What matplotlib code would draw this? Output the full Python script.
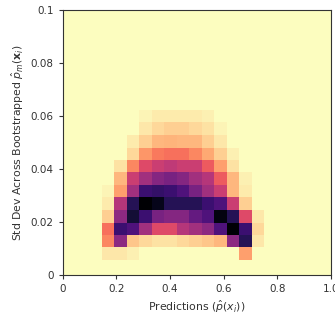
import numpy as np
import matplotlib
matplotlib.use("Agg")
import matplotlib.pyplot as plt

# bin edges of the 2d histogram (prediction, std dev)
x_edges = [0.146, 0.193, 0.239, 0.286, 0.332, 0.379, 0.425,
           0.472, 0.519, 0.565, 0.612, 0.658, 0.705, 0.751]
y_edges = [0.0057, 0.0104, 0.0151, 0.0198, 0.0246, 0.0293, 0.0340,
           0.0387, 0.0434, 0.0481, 0.0529, 0.0576, 0.0623]

# relative density per cell, rows go bottom -> top
density = [
    [0.05, 0.05, 0.03, 0, 0, 0, 0, 0, 0, 0, 0, 0.2, 0],
    [0.25, 0.6, 0.12, 0.08, 0.06, 0.06, 0.08, 0.1, 0.12, 0.15, 0.6, 0.85, 0.05],
    [0.3, 0.8, 0.75, 0.55, 0.4, 0.4, 0.5, 0.55, 0.6, 0.75, 1.0, 0.8, 0.08],
    [0.1, 0.6, 0.9, 0.8, 0.65, 0.62, 0.62, 0.7, 0.75, 0.97, 0.85, 0.4, 0.05],
    [0.04, 0.5, 0.85, 1.0, 0.95, 0.85, 0.85, 0.85, 0.8, 0.75, 0.45, 0.1, 0],
    [0.02, 0.2, 0.55, 0.8, 0.82, 0.8, 0.75, 0.65, 0.55, 0.45, 0.15, 0.04, 0],
    [0, 0.15, 0.45, 0.55, 0.62, 0.65, 0.62, 0.55, 0.5, 0.35, 0.15, 0.03, 0],
    [0, 0.06, 0.25, 0.4, 0.45, 0.48, 0.45, 0.45, 0.35, 0.2, 0.06, 0, 0],
    [0, 0, 0.08, 0.22, 0.28, 0.3, 0.3, 0.25, 0.18, 0.1, 0.03, 0, 0],
    [0, 0, 0.04, 0.1, 0.15, 0.16, 0.15, 0.15, 0.1, 0.05, 0, 0, 0],
    [0, 0, 0, 0.05, 0.08, 0.1, 0.1, 0.08, 0.06, 0.02, 0, 0, 0],
    [0, 0, 0, 0.02, 0.04, 0.04, 0.04, 0.04, 0.03, 0, 0, 0, 0],
]

x_ticks = [0, 0.2, 0.4, 0.6, 0.8, 1.0]
x_ticklabels = ["0", "0.2", "0.4", "0.6", "0.8", "1.0"]
y_ticks = [0, 0.02, 0.04, 0.06, 0.08, 0.1]
y_ticklabels = ["0", "0.02", "0.04", "0.06", "0.08", "0.1"]

cmap = plt.get_cmap("magma_r")

fig = plt.figure(figsize=(3.35, 3.2), dpi=100)
ax = fig.add_axes([0.1866, 0.1406, 0.8015, 0.828])
ax.set_facecolor(cmap(0.0))
ax.pcolormesh(x_edges, y_edges, np.array(density), cmap=cmap, vmin=0, vmax=1)

ax.set_xlim(0, 1)
ax.set_ylim(0, 0.1)
ax.set_xticks(x_ticks)
ax.set_xticklabels(x_ticklabels)
ax.set_yticks(y_ticks)
ax.set_yticklabels(y_ticklabels)
ax.tick_params(labelsize=7.5, length=3, color="#333333", labelcolor="#333333")
for s in ax.spines.values():
    s.set_color("#333333")

ax.set_xlabel(r"Predictions ($\hat{p}(x_i)$)", fontsize=7.8, color="#333333",
              labelpad=3)
ax.set_ylabel(r"Std Dev Across Bootstrapped $\hat{p}_m(\mathbf{x}_i)$",
              fontsize=7.8, color="#333333", labelpad=3)

fig.savefig("out.png", dpi=100)
